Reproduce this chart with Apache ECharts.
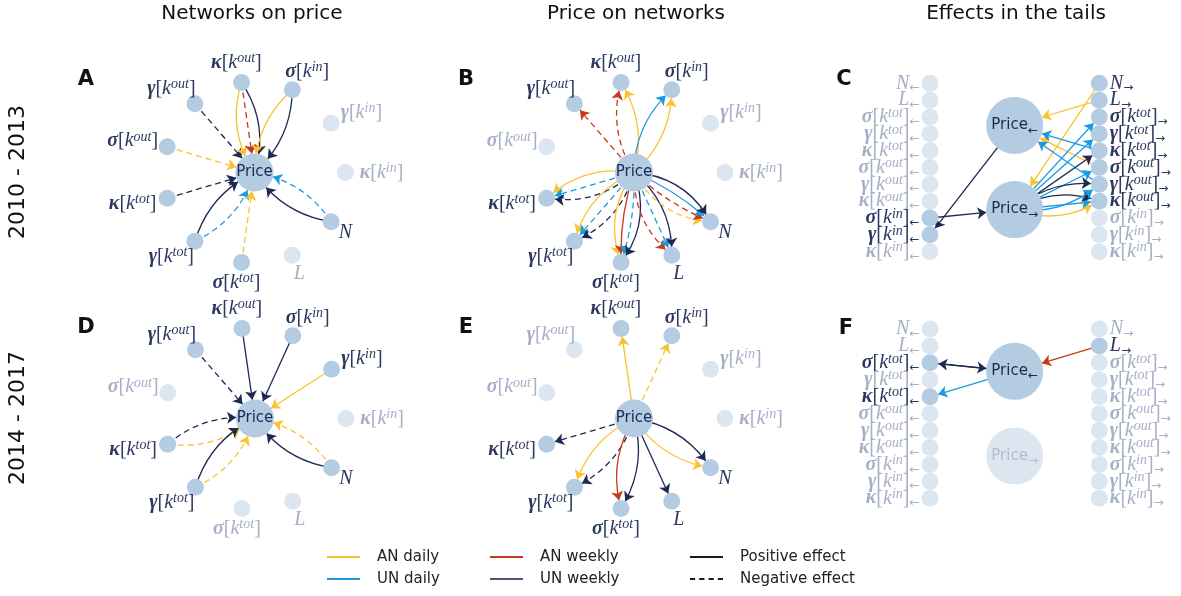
<!DOCTYPE html>
<html><head><meta charset="utf-8">
<script src="https://cdn.jsdelivr.net/npm/echarts@6/dist/echarts.min.js"></script>
<style>html,body{margin:0;padding:0;background:#fff}#c{width:1181px;height:596px}</style>
</head><body><div id="c"></div><script>
// ---------------- data ----------------
// ring order, counter-clockwise starting east
const ringIds = ['kin','gin','sin','kout','gout','sout','ktot','gtot','stot','L','N'];
// tail columns, top to bottom
const tailIds = ['N','L','stot','gtot','ktot','sout','gout','kout','sin','gin','kin'];
const nodeTex = {
  kin:['κ','in'], gin:['γ','in'], sin:['σ','in'],
  kout:['κ','out'], gout:['γ','out'], sout:['σ','out'],
  ktot:['κ','tot'], gtot:['γ','tot'], stot:['σ','tot'],
  L:null, N:null
};
// edges: [source, target, network/frequency, sign]
// AD = AN daily, AW = AN weekly, UD = UN daily, UW = UN weekly
const edgesA = [
  ['gout','P','UW','-'],
  ['kout','P','AD','+'],['kout','P','AW','-'],['kout','P','UW','+'],
  ['sin','P','AD','+'],['sin','P','UW','+'],
  ['sout','P','AD','-'],
  ['ktot','P','UW','-'],
  ['gtot','P','UD','-'],['gtot','P','UW','+'],
  ['stot','P','AD','-'],
  ['N','P','UD','-'],['N','P','UW','+']
];
const edgesB = [
  ['P','gout','AW','-'],
  ['P','kout','AD','+'],['P','kout','AW','-'],
  ['P','sin','AD','+'],['P','sin','UD','+'],
  ['P','ktot','AD','+'],['P','ktot','UD','-'],['P','ktot','UW','-'],
  ['P','gtot','AD','+'],['P','gtot','UD','-'],['P','gtot','UW','-'],
  ['P','stot','AD','+'],['P','stot','AW','+'],['P','stot','UD','-'],['P','stot','UW','+'],
  ['P','L','AW','-'],['P','L','UD','-'],['P','L','UW','+'],
  ['P','N','AD','-'],['P','N','AW','-'],['P','N','UD','+'],['P','N','UW','+']
];
const edgesD = [
  ['gout','P','UW','-'],
  ['kout','P','UW','+'],
  ['sin','P','UW','+'],
  ['gin','P','AD','+'],
  ['ktot','P','AD','-'],['ktot','P','UW','-'],
  ['gtot','P','AD','-'],['gtot','P','UW','+'],
  ['N','P','AD','-'],['N','P','UW','+']
];
const edgesE = [
  ['P','kout','AD','+'],
  ['P','sin','AD','-'],
  ['P','ktot','UW','-'],
  ['P','gtot','AD','+'],['P','gtot','UW','-'],
  ['P','stot','AW','+'],['P','stot','UW','+'],
  ['P','L','UW','+'],
  ['P','N','AD','+'],['P','N','UW','+']
];
// tails: '<' = left tail, '>' = right tail
const edgesC = [
  ['L>','P<','AD','+'],
  ['N>','P>','AD','+'],
  ['sout>','P<','AD','+'],
  ['P>','kout>','AD','+'],
  ['ktot>','P<','UD','+'],
  ['gout>','P<','UD','+'],
  ['P>','stot>','UD','+'],
  ['P>','gtot>','UD','+'],
  ['P>','sout>','UD','+'],
  ['P>','gout>','UD','+'],
  ['P>','kout>','UD','+'],
  ['P>','ktot>','UW','+'],
  ['P>','gout>','UW','+'],
  ['P>','kout>','UW','+'],
  ['P<','gin<','UW','+'],
  ['sin<','P>','UW','+']
];
const edgesF = [
  ['P<','stot<','UW','+'],
  ['stot<','P<','UW','+'],
  ['P<','ktot<','UD','+'],
  ['L>','P<','AW','+']
];
const columnTitles = ['Networks on price','Price on networks','Effects in the tails'];
const rowTitles = ['2010 - 2013','2014 - 2017'];
const panelLetters = ['A','B','C','D','E','F'];
const legendNames = ['AN daily','UN daily','AN weekly','UN weekly','Positive effect','Negative effect'];

// ---------------- styles ----------------
const typeColor = {AD:'#fcc12e', AW:'#c9381a', UD:'#1a9be0', UW:'#1d2853'};
const typeOrder = {AD:0, AW:1, UD:2, UW:3};
const NODE = '#b3cce2', FADE = '#dbe6f1', TXT = '#2c3860', FTXT = '#a7afc7', PTXT = '#1d2853';
const serif = 'Liberation Serif', sans = 'DejaVu Sans';
const rich = {
  g:{fontFamily:serif, fontStyle:'italic', fontWeight:'bold', fontSize:20, lineHeight:22},
  b:{fontFamily:serif, fontSize:20, lineHeight:22},
  k:{fontFamily:serif, fontStyle:'italic', fontSize:20, lineHeight:22},
  s:{fontFamily:serif, fontStyle:'italic', fontSize:14, lineHeight:7, verticalAlign:'top'},
  ar:{fontFamily:sans, fontSize:12, lineHeight:10, verticalAlign:'bottom'},
  p:{fontFamily:sans, fontSize:15, lineHeight:22}
};
function tex(id, arrow) {
  const t = nodeTex[id];
  const a = arrow ? '{ar|' + arrow + '}' : '';
  if (!t) return '{k|' + id + '}' + a;
  return '{g|' + t[0] + '}{b|[}{k|k}{s|' + t[1] + '}{b|]}' + a;
}
const curvSets = {1:[0], 2:[-0.22,0.22], 3:[-0.24,0,0.24], 4:[-0.27,-0.09,0.09,0.27]};
function buildLinks(edges) {
  const groups = {};
  edges.forEach(e => { const k = e[0] + '|' + e[1]; (groups[k] = groups[k] || []).push(e); });
  const links = [];
  Object.keys(groups).forEach(k => {
    const g = groups[k].slice().sort((a, b) => typeOrder[a[2]] - typeOrder[b[2]]);
    const cs = curvSets[g.length];
    g.forEach((e, i) => links.push({
      source: e[0], target: e[1],
      lineStyle: {color: typeColor[e[2]], type: e[3] === '-' ? [6, 4] : 'solid', curveness: cs[i], width: 1.3, opacity: 1}
    }));
  });
  return links;
}
function activeSet(edges) { const s = new Set(); edges.forEach(e => { s.add(e[0]); s.add(e[1]); }); return s; }
function baseGraph(gi) {
  return {type:'graph', coordinateSystem:'cartesian2d', xAxisIndex:gi, yAxisIndex:gi, layout:'none',
    edgeSymbol:['none','arrow'], edgeSymbolSize:9, silent:true, animation:false,
    lineStyle:{opacity:1, width:1.3}, emphasis:{disabled:true}};
}
function ringSeries(gi, edges) {
  const on = activeSet(edges);
  const nodes = [{name:'P', value:[0,0], symbolSize:38, itemStyle:{color:NODE},
    label:{show:true, position:'inside', formatter:'{p|Price}', color:PTXT, rich}}];
  ringIds.forEach((id, i) => {
    const a = i * 2 * Math.PI / ringIds.length, c = Math.cos(a), s = Math.sin(a);
    const w = nodeTex[id] ? 52 : 14;
    nodes.push({name:id, value:[c, s], symbolSize:17, itemStyle:{color: on.has(id) ? NODE : FADE},
      label:{show:true, position:[8.5 + (10 + w / 2) * c, 8.5 - 20 * s], align:'center', verticalAlign:'middle',
        formatter: tex(id, ''), color: on.has(id) ? TXT : FTXT, rich}});
  });
  return Object.assign(baseGraph(gi), {data:nodes, links:buildLinks(edges)});
}
function tailSeries(gi, edges) {
  const on = activeSet(edges);
  const nodes = [];
  tailIds.forEach((id, i) => {
    [['<', 0, 'left'], ['>', 1, 'right']].forEach(([sfx, x, pos]) => {
      const nm = id + sfx, act = on.has(nm);
      nodes.push({name:nm, value:[x, i], symbolSize:17, itemStyle:{color: act ? NODE : FADE},
        label:{show:true, position:pos, distance:2, formatter: tex(id, sfx === '<' ? '←' : '→'), color: act ? TXT : FTXT, rich}});
    });
  });
  [['P<', 2.5, '←'], ['P>', 7.5, '→']].forEach(([nm, y, ar]) => {
    const act = on.has(nm);
    nodes.push({name:nm, value:[0.5, y], symbolSize:57, itemStyle:{color: act ? NODE : FADE},
      label:{show:true, position:'inside', formatter:'{p|Price}{ar|' + ar + '}', color: act ? PTXT : '#b0bcd0', rich}});
  });
  return Object.assign(baseGraph(gi), {data:nodes, links:buildLinks(edges)});
}

// ---------------- layout ----------------
const R = 91;
const ringCenters = [[254.5,172.5],[634,172.5],[255,418.5],[634,418.5]];
const grids = ringCenters.map(([cx, cy]) => ({left:cx - R, top:cy - R, width:2 * R, height:2 * R}));
grids.push({left:930, top:83.3, width:169.3, height:168.4});
grids.push({left:930, top:329, width:169.3, height:169.3});
const xAxes = grids.map((g, i) => i < 4 ? {type:'value', min:-1, max:1, show:false, gridIndex:i} : {type:'value', min:0, max:1, show:false, gridIndex:i});
const yAxes = grids.map((g, i) => i < 4 ? {type:'value', min:-1, max:1, show:false, gridIndex:i} : {type:'value', min:0, max:10, inverse:true, show:false, gridIndex:i});

const series = [
  ringSeries(0, edgesA), ringSeries(1, edgesB), ringSeries(2, edgesD), ringSeries(3, edgesE),
  tailSeries(4, edgesC), tailSeries(5, edgesF)
];
const legendColor = ['#fcc12e','#1a9be0','#c9381a','#4b557a','#1a1a1a','#1a1a1a'];
const solidIcon = 'path://M0,0H33V2H0Z';
const dashIcon = 'path://M0,0H5V2H0ZM9,0H14V2H9ZM18,0H23V2H18ZM27,0H32V2H27Z';
legendNames.forEach((n, i) => series.push({type:'line', name:n, data:[], xAxisIndex:0, yAxisIndex:0,
  symbol:'none', lineStyle:{color:legendColor[i], width:2}, itemStyle:{color:legendColor[i]}}));
const legendLeft = [327, 327, 490, 490, 690, 690];
const legendTop = [549, 571, 549, 571, 549, 571];
const legend = legendNames.map((n, i) => ({data:[{name:n, icon: n === 'Negative effect' ? dashIcon : solidIcon}],
  left:legendLeft[i], top:legendTop[i], padding:0, orient:'horizontal',
  itemWidth:33, itemHeight:14, selectedMode:false,
  textStyle:{fontFamily:sans, fontSize:15, lineHeight:16, color:'#222', padding:[0,0,0,12]}}));

const titleX = [252, 636, 1016];
const letterPos = [[86,80],[466,80],[844,80],[86,328],[466,328],[846,329]];
const graphic = [];
columnTitles.forEach((t, i) => graphic.push({type:'text', x:titleX[i], y:14,
  style:{text:t, textAlign:'center', textVerticalAlign:'middle', font:'20px "DejaVu Sans"', fill:'#111'}}));
rowTitles.forEach((t, i) => graphic.push({type:'text', x:18, y:[172, 418][i], rotation:Math.PI / 2,
  style:{text:t, textAlign:'center', textVerticalAlign:'middle', font:'22px "DejaVu Sans"', fill:'#111'}}));
panelLetters.forEach((t, i) => graphic.push({type:'text', x:letterPos[i][0], y:letterPos[i][1],
  style:{text:t, textAlign:'center', textVerticalAlign:'middle', font:'bold 21px "DejaVu Sans"', fill:'#111'}}));

const chart = echarts.init(document.getElementById('c'));
chart.setOption({animation:false, backgroundColor:'#fff', grid:grids, xAxis:xAxes, yAxis:yAxes, series, legend, graphic});
</script></body></html>
